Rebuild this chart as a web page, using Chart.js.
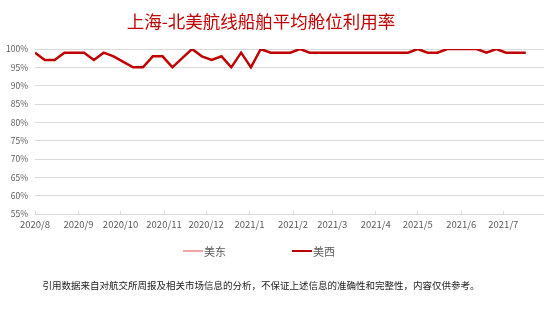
<!DOCTYPE html>
<html>
<head>
<meta charset="utf-8">
<script src="https://cdn.jsdelivr.net/npm/chart.js@4/dist/chart.umd.min.js"></script>
<style>
  html, body { margin: 0; padding: 0; background: #fff; }
  #wrap { position: relative; width: 554px; height: 310px; overflow: hidden; font-family: "Noto Sans CJK SC", "Noto Sans", sans-serif; }
  #chart { position: absolute; left: 0; top: 0; }
  .title { position: absolute; left: 0; top: 10px; width: 522px; text-align: center; font-size: 17.5px; line-height: 22px; color: #c00000; }
  .legend { position: absolute; left: 183px; top: 243px; display: flex; align-items: center; font-size: 11px; line-height: 16px; color: #595959; }
  .legend .item { display: flex; align-items: center; margin-right: 66px; }
  .legend .swatch { display: inline-block; width: 20px; margin-right: 1px; }
  .note { position: absolute; left: 0; top: 278px; width: 522px; text-align: center; font-size: 9.5px; line-height: 14px; color: #1a1a1a; }
</style>
</head>
<body>
<div id="wrap">
  <canvas id="chart" width="554" height="310"></canvas>
  <div class="title">上海-北美航线船舶平均舱位利用率</div>
  <div class="legend" id="legend"></div>
  <div class="note">引用数据来自对航交所周报及相关市场信息的分析，不保证上述信息的准确性和完整性，内容仅供参考。</div>
</div>
<script>
// weekly sample dates
const weeks = [
  '2020/8/1', '2020/8/8', '2020/8/15', '2020/8/22', '2020/8/29',
  '2020/9/5', '2020/9/12', '2020/9/19', '2020/9/26',
  '2020/10/3', '2020/10/10', '2020/10/17', '2020/10/24', '2020/10/31',
  '2020/11/7', '2020/11/14', '2020/11/21', '2020/11/28',
  '2020/12/5', '2020/12/12', '2020/12/19', '2020/12/26',
  '2021/1/2', '2021/1/9', '2021/1/16', '2021/1/23', '2021/1/30',
  '2021/2/6', '2021/2/13', '2021/2/20', '2021/2/27',
  '2021/3/6', '2021/3/13', '2021/3/20', '2021/3/27',
  '2021/4/3', '2021/4/10', '2021/4/17', '2021/4/24',
  '2021/5/1', '2021/5/8', '2021/5/15', '2021/5/22', '2021/5/29',
  '2021/6/5', '2021/6/12', '2021/6/19', '2021/6/26',
  '2021/7/3', '2021/7/10', '2021/7/17'
];

// 美西 utilisation, %
const westValues = [
  99, 97, 97, 99, 99, 99, 97, 99, 98, 96.5,
  95, 95, 98, 98, 95, 97.5, 100, 98, 97, 98,
  95, 99, 95, 100, 99, 99, 99, 100, 99, 99,
  99, 99, 99, 99, 99, 99, 99, 99, 99, 100,
  99, 99, 100, 100, 100, 100, 99, 100, 99, 99,
  99
];

// 美东: no line visible in the source
const eastValues = [];

const monthLabels = ['2020/8', '2020/9', '2020/10', '2020/11', '2020/12', '2021/1',
  '2021/2', '2021/3', '2021/4', '2021/5', '2021/6', '2021/7'];

const xStart = '2020/8/1';
const xEnd = '2021/7/30';

const yMin = 55, yMax = 100, yStep = 5;

// days since xStart
const dayOf = (s) => {
  const [y, m, d] = s.split('/').map(Number);
  const [y0, m0, d0] = xStart.split('/').map(Number);
  return (Date.UTC(y, m - 1, d || 1) - Date.UTC(y0, m0 - 1, d0)) / 864e5;
};

const toPoints = (vals) => vals.map((v, i) => ({ x: dayOf(weeks[i]), y: v }));

const tickFont = { family: '"Noto Sans CJK SC", "Noto Sans", sans-serif', size: 9.5 };

const chart = new Chart(document.getElementById('chart'), {
  type: 'line',
  data: {
    datasets: [
      { label: '美东', data: toPoints(eastValues), borderColor: '#f4a3a3', backgroundColor: '#f4a3a3', borderWidth: 1.5, pointRadius: 0 },
      { label: '美西', data: toPoints(westValues), borderColor: '#c00000', backgroundColor: '#c00000', borderWidth: 2.5, pointRadius: 0 }
    ]
  },
  options: {
    responsive: false,
    animation: false,
    devicePixelRatio: 1,
    layout: { padding: { top: 49, right: 10, bottom: 76, left: 0 } },
    plugins: { legend: { display: false }, tooltip: { enabled: false }, title: { display: false } },
    scales: {
      x: {
        type: 'linear',
        min: dayOf(xStart),
        max: dayOf(xEnd),
        afterBuildTicks: (axis) => { axis.ticks = monthLabels.map(m => ({ value: dayOf(m) })); },
        afterFit: (axis) => { axis.height = 20; },
        border: { display: false },
        grid: { drawOnChartArea: false, color: '#d9d9d9', tickLength: -3 },
        ticks: {
          autoSkip: false, maxRotation: 0, padding: 8, color: '#595959', font: tickFont,
          callback: (v, i) => monthLabels[i]
        }
      },
      y: {
        min: yMin,
        max: yMax,
        afterFit: (axis) => { axis.width = 35; },
        border: { display: false },
        grid: { color: '#d9d9d9', drawTicks: false },
        ticks: { stepSize: yStep, padding: 7, color: '#595959', font: { ...tickFont, size: 8.5 }, callback: (v) => v + '%' }
      }
    }
  }
});

// legend built from the chart's datasets
const legendEl = document.getElementById('legend');
chart.data.datasets.forEach(ds => {
  const item = document.createElement('span');
  item.className = 'item';
  const sw = document.createElement('span');
  sw.className = 'swatch';
  sw.style.height = ds.borderWidth + 'px';
  sw.style.background = ds.borderColor;
  item.appendChild(sw);
  item.appendChild(document.createTextNode(ds.label));
  legendEl.appendChild(item);
});
</script>
</body>
</html>
